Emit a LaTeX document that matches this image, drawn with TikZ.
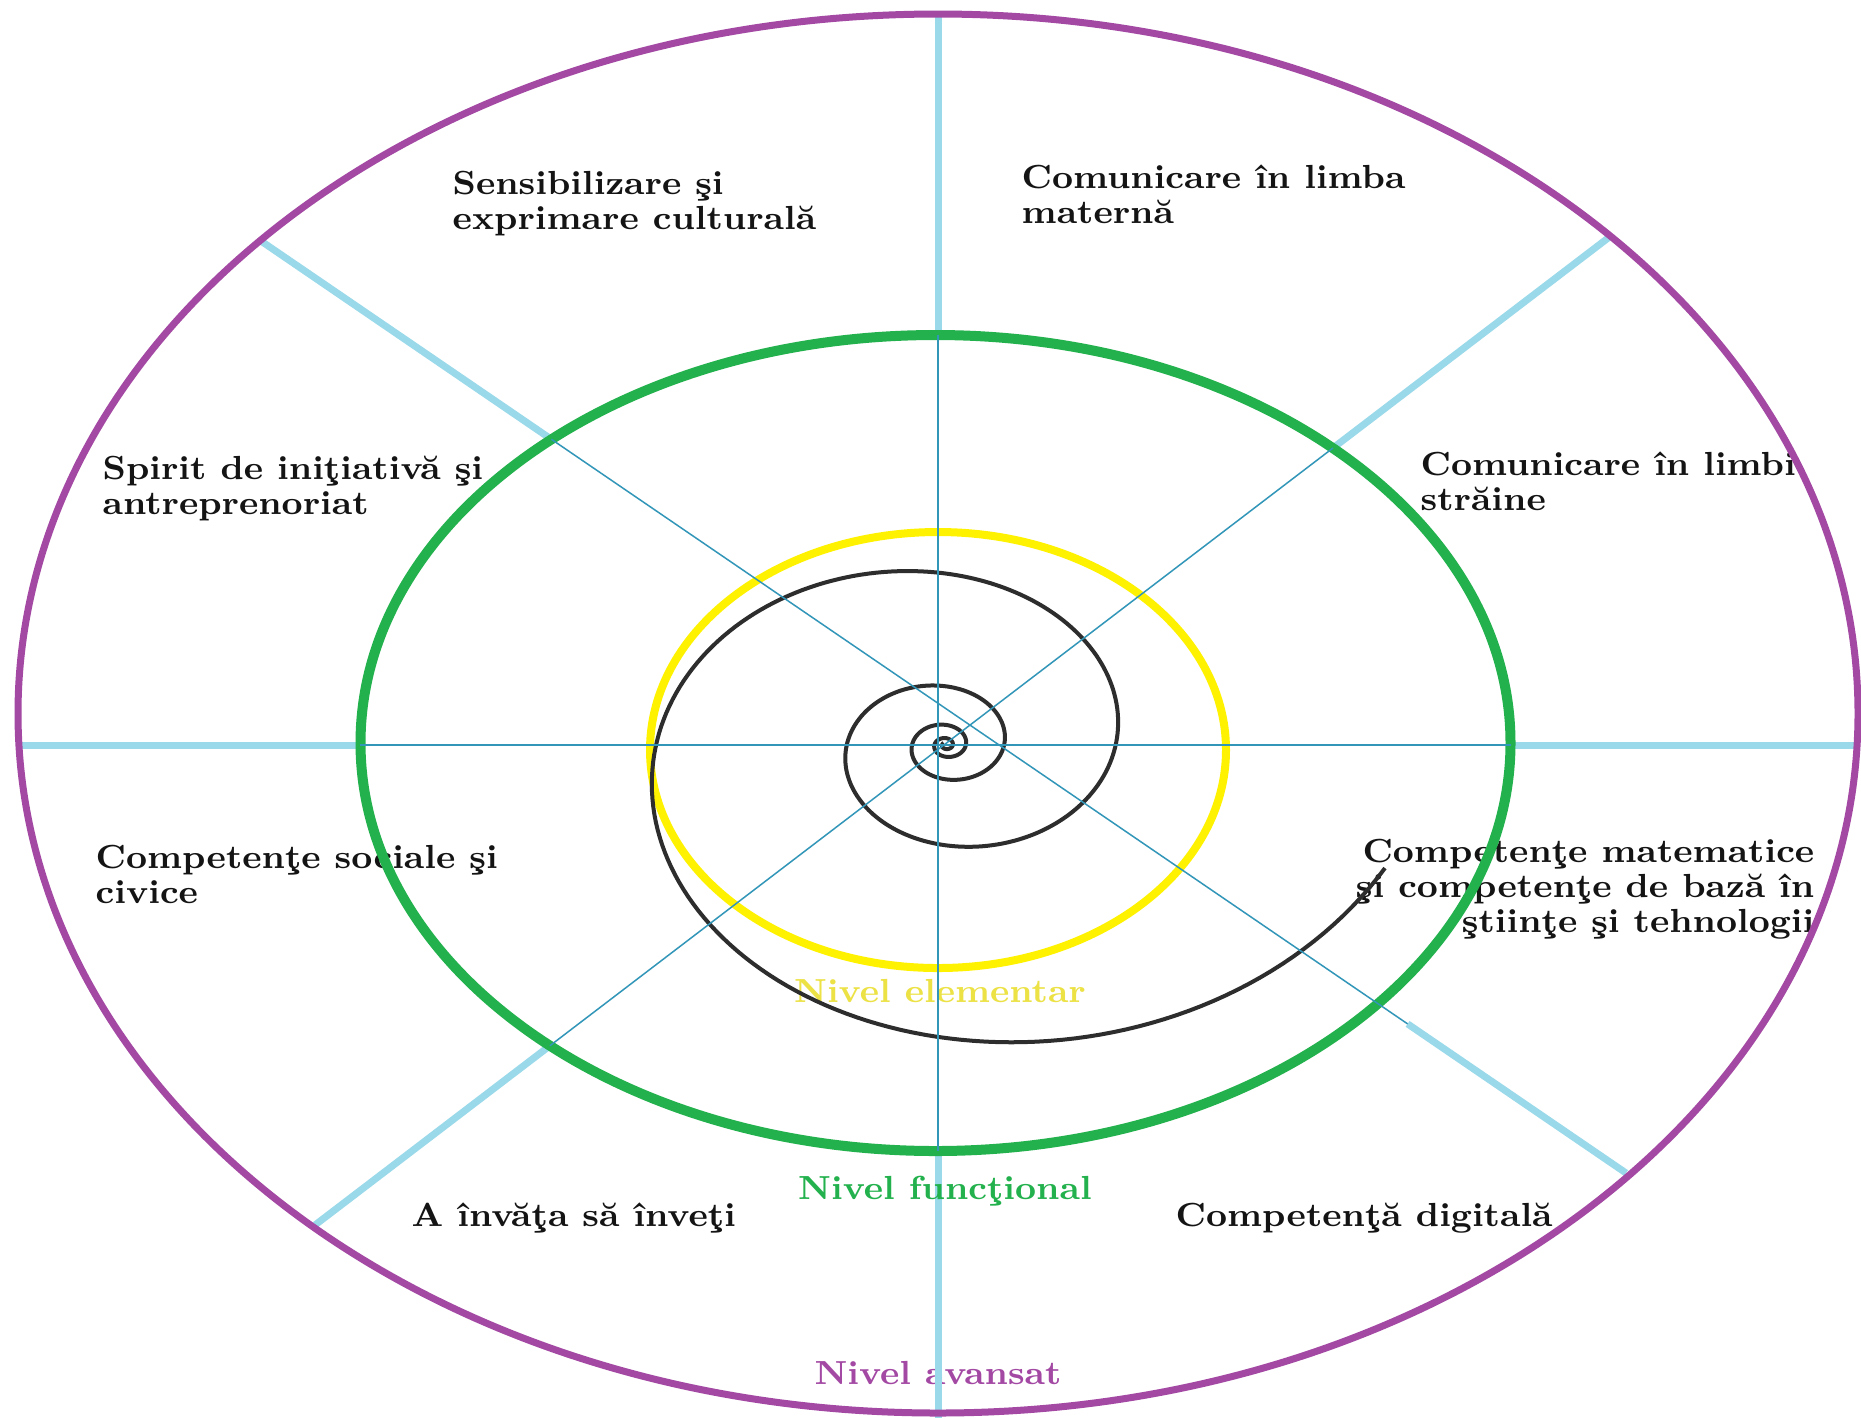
\documentclass[tikz,border=0pt]{standalone}
\usepackage{fontspec}
\newfontfamily\lblfont{Latin Modern Roman}[FakeStretch=1.065]
\usetikzlibrary{calc}
\definecolor{ringpurple}{RGB}{163,73,164}
\definecolor{ringgreen}{RGB}{34,177,76}
\definecolor{ringyellow}{RGB}{255,242,0}
\definecolor{spokelight}{RGB}{153,217,234}
\definecolor{spokethin}{RGB}{50,150,185}
\definecolor{txtyellow}{RGB}{236,226,70}
\definecolor{spiralgray}{RGB}{45,45,45}
\begin{document}
\begin{tikzpicture}[x=0.1mm,y=-0.1mm,
  thickspoke/.style={spokelight, line width=0.7mm},
  thinspoke/.style={spokethin, line width=0.15mm},
  lbl/.style={font={\lblfont\bfseries\fontsize{9.5}{10}\selectfont}, text=black!92, inner sep=0pt},
  spiralline/.style={spiralgray, line width=0.4mm}]
\useasboundingbox (0,0) rectangle (1861,1418);
\fill[white] (0,0) rectangle (1861,1418);

% labels
\node[lbl, anchor=north west, align=left] (t1) at (452,170) {Sensibilizare şi\\exprimare culturală};
\node[lbl, anchor=north west, align=left] (t2) at (1021,164) {Comunicare în limba\\maternă};
\node[lbl, anchor=north west, align=left] (t3) at (102,455) {Spirit de iniţiativă şi\\antreprenoriat};
\node[lbl, anchor=north west, align=left] (t4) at (1420,451) {Comunicare în limbi\\străine};
\node[lbl, anchor=north west, align=left] (t5) at (95,844) {Competenţe sociale şi\\civice};
\node[lbl, anchor=north east, align=right] (t6) at (1815,838) {Competenţe matematice\\şi competenţe de bază în\\ştiinţe şi tehnologii};
\node[lbl, anchor=base west] (t7) at (411,1226) {A învăţa să înveţi};
\node[lbl, anchor=base west] (t8) at (1175,1226) {Competenţă digitală};
\node[lbl, anchor=base, text=txtyellow] (n1) at (940,1002) {Nivel elementar};
\node[lbl, anchor=base, text=ringpurple] (n3) at (938,1384) {Nivel avansat};

% spoke coordinates
\coordinate (vt) at (938,14);
\coordinate (vgt) at (938,335);
\coordinate (vgb) at (938,1151);
\coordinate (vb) at (938,1418);
\coordinate (hl) at (18,745);
\coordinate (hgl) at (360,745);
\coordinate (hgr) at (1511,745);
\coordinate (hr) at (1858,745);
\coordinate (d1a) at (261,241);
\coordinate (d1b) at (1626,1173);
\coordinate (d2a) at (315,1225);
\coordinate (d2b) at (1612,235);
\coordinate (d1g) at ($(d1a)!0.2127!(d1b)$);
\coordinate (d1h) at ($(d1a)!0.84!(d1b)$);
\coordinate (d2g) at ($(d2a)!0.1811!(d2b)$);
\coordinate (d2h) at ($(d2a)!0.7848!(d2b)$);

% thick spokes
\draw[thickspoke] (vt) -- (vgt);
\draw[thickspoke] (vgb) -- (vb);
\draw[thickspoke] (hl) -- (hgl);
\draw[thickspoke] (hgr) -- (hr);
\draw[thickspoke] (d1a) -- (d1g);
\draw[thickspoke] (d1h) -- (d1b);
\draw[thickspoke] (d2a) -- (d2g);
\draw[thickspoke] (d2h) -- (d2b);

\node[lbl, anchor=base, text=ringgreen] (n2) at (945,1199) {Nivel funcţional};

% rings
\draw[ringpurple, line width=0.7mm] (938,713.5) ellipse [x radius=92mm, y radius=69.95mm];
\draw[ringgreen, line width=1mm] (935.5,743) ellipse [x radius=57.5mm, y radius=40.8mm];
\draw[ringyellow, line width=0.8mm] (938,750) ellipse [x radius=28.8mm, y radius=21.8mm];

% spiral
\draw[spiralline] plot[domain=-29.1:-0.344, samples=900, variable=\t]
  ({946 + 379*exp(0.1706*(\t+1.5708))*cos(\t r)}, {745 - 293*exp(0.1706*(\t+1.5708))*sin(\t r)});

% thin spokes
\draw[thinspoke] (vgt) -- (vgb);
\draw[thinspoke] (hgl) -- (hgr);
\draw[thinspoke] (d1g) -- (d1h);
\draw[thinspoke] (d2g) -- (d2h);
\end{tikzpicture}
\end{document}
